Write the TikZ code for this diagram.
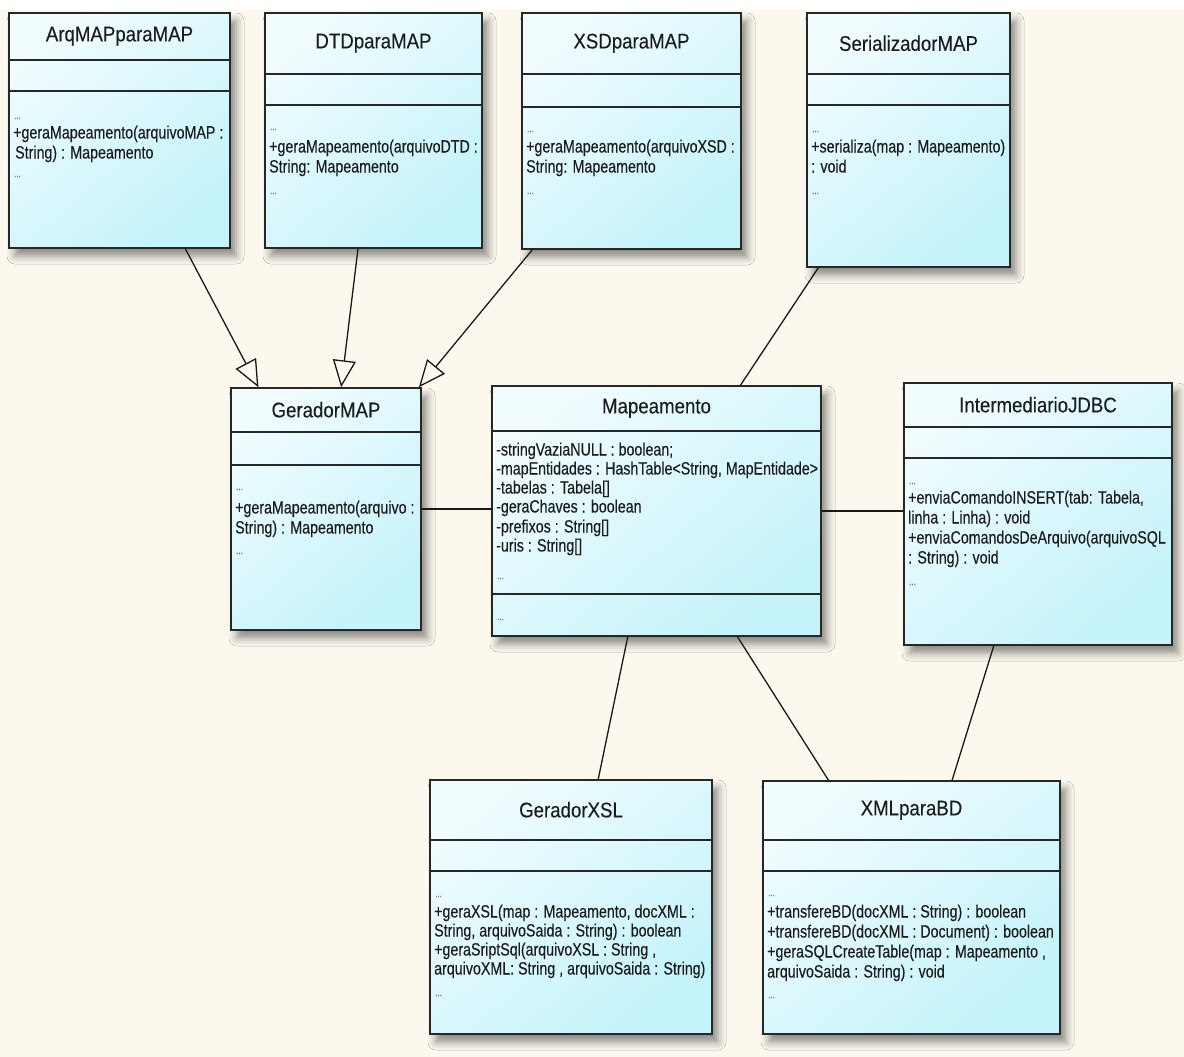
\documentclass[tikz,border=0pt]{standalone}
\usepackage{fontspec}
\setmainfont{Liberation Sans}[FakeStretch=0.8, FakeBold=0.25]
\newfontfamily\ttlfont{Liberation Sans}[FakeStretch=0.88, FakeBold=0.2]
\usetikzlibrary{calc,arrows.meta,shadows.blur}

\definecolor{paper}{RGB}{252,248,238}
\definecolor{boxlight}{RGB}{240,252,254}
\definecolor{boxdark}{RGB}{196,243,250}
\definecolor{boxline}{RGB}{38,40,40}
\definecolor{textcol}{RGB}{28,28,28}
\definecolor{dotcol}{RGB}{110,110,110}
\definecolor{linecol}{RGB}{25,25,25}

\tikzset{
  cls/.style={draw=boxline, line width=1.5pt, inner sep=0pt,
    top color=boxlight, bottom color=boxdark, shading angle=40,
    blur shadow={shadow xshift=6pt, shadow yshift=-8pt,
      shadow blur radius=8pt, shadow opacity=45}},
  sep/.style={draw=boxline, line width=1.8pt},
  ctitle/.style={font=\ttlfont\fontsize{21.2}{24}\selectfont, text=textcol, inner sep=0pt},
  mtext/.style={font=\fontsize{17.8}{19}\selectfont, text=textcol, inner sep=0pt, anchor=base west},
  mdots/.style={font=\fontsize{10}{10}\selectfont, text=dotcol, inner sep=0pt, anchor=base west},
  assoc/.style={draw=linecol, line width=1.3pt},
  gen/.style={assoc, -{Triangle[open, length=27pt, width=23pt]}},
}

% class box: name, left, top, right, bottom, first rule, second rule, title
\newcommand\umlclass[8]{%
  \pgfmathsetmacro\cw{#4-#2}\pgfmathsetmacro\ch{#5-#3}%
  \node[cls, minimum width=\cw pt, minimum height=\ch pt] (#1) at ({(#2+#4)/2},{(#3+#5)/2}) {};
  \draw[sep] ($(#1.north west)+(0,#6-#3)$) -- ($(#1.north east)+(0,#6-#3)$);
  \draw[sep] ($(#1.north west)+(0,#7-#3)$) -- ($(#1.north east)+(0,#7-#3)$);
  \node[ctitle] (#1-title) at ($(#1.north)+(0,{(#6-#3)/2})$) {#8};
}
% member line: name, x, line centre y, text
\newcommand\mem[4]{\node[mtext] (#1) at (#2,{#3+5.5}) {#4};}
% elided members
\newcommand\mdot[3]{\node[mdots] (#1) at (#2,{#3+2}) {...};}

\begin{document}
\begin{tikzpicture}[x=1pt, y=-1pt]
\useasboundingbox (0,0) rectangle (1184,1057);
\fill[paper] (0,0) rectangle (1184,1057);
\fill[white] (0,0) rectangle (1184,10);

% ---- top row
\umlclass{arq}{9}{13}{230}{248}{61}{92}{ArqMAPparaMAP}
\mdot{arq-d1}{14}{117}
\mem{arq-m1}{13}{133}{+geraMapeamento(arquivoMAP :}
\mem{arq-m2}{15}{153}{String) : Mapeamento}
\mdot{arq-d2}{14}{175}

\umlclass{dtd}{265}{13}{482}{248}{75}{106}{DTDparaMAP}
\mdot{dtd-d1}{270}{128}
\mem{dtd-m1}{269}{147}{+geraMapeamento(arquivoDTD :}
\mem{dtd-m2}{269}{167}{String: Mapeamento}
\mdot{dtd-d2}{270}{192}

\umlclass{xsd}{522}{13}{741}{249}{75}{108}{XSDparaMAP}
\mdot{xsd-d1}{527}{130}
\mem{xsd-m1}{526}{147}{+geraMapeamento(arquivoXSD :}
\mem{xsd-m2}{526}{167}{String: Mapeamento}
\mdot{xsd-d2}{527}{192}

\umlclass{ser}{807}{13}{1010}{267}{75}{106}{SerializadorMAP}
\mdot{ser-d1}{812}{130}
\mem{ser-m1}{811}{147}{+serializa(map : Mapeamento)}
\mem{ser-m2}{811}{167}{: void}
\mdot{ser-d2}{812}{192}

% ---- middle row
\umlclass{gmap}{231}{388}{421}{630}{433}{466}{GeradorMAP}
\mdot{gmap-d1}{236}{488}
\mem{gmap-m1}{235}{508}{+geraMapeamento(arquivo :}
\mem{gmap-m2}{235}{528}{String) : Mapeamento}
\mdot{gmap-d2}{236}{552}

\umlclass{mape}{492}{386}{821}{636}{432}{595}{Mapeamento}
\mem{mape-a1}{496}{450}{-stringVaziaNULL : boolean;}
\mem{mape-a2}{496}{469}{-mapEntidades : HashTable<String, MapEntidade>}
\mem{mape-a3}{496}{488}{-tabelas : Tabela[]}
\mem{mape-a4}{496}{507}{-geraChaves : boolean}
\mem{mape-a5}{496}{527}{-prefixos : String[]}
\mem{mape-a6}{496}{546}{-uris : String[]}
\mdot{mape-d1}{497}{577}
\mdot{mape-d2}{497}{618}

\umlclass{jdbc}{904}{383}{1172}{645}{428}{459}{IntermediarioJDBC}
\mdot{jdbc-d1}{909}{482}
\mem{jdbc-m1}{908}{498}{+enviaComandoINSERT(tab: Tabela,}
\mem{jdbc-m2}{908}{518}{linha : Linha) : void}
\mem{jdbc-m3}{908}{538}{+enviaComandosDeArquivo(arquivoSQL}
\mem{jdbc-m4}{908}{558}{: String) : void}
\mdot{jdbc-d2}{909}{583}

% ---- bottom row
\umlclass{gxsl}{430}{780}{712}{1034}{841}{872}{GeradorXSL}
\mdot{gxsl-d1}{435}{895}
\mem{gxsl-m1}{434}{912}{+geraXSL(map : Mapeamento, docXML :}
\mem{gxsl-m2}{434}{931}{String, arquivoSaida : String) : boolean}
\mem{gxsl-m3}{434}{950}{+geraSriptSql(arquivoXSL : String ,}
\mem{gxsl-m4}{434}{969}{arquivoXML: String , arquivoSaida : String)}
\mdot{gxsl-d2}{435}{994}

\umlclass{xbd}{763}{781}{1060}{1034}{841}{872}{XMLparaBD}
\mdot{xbd-d1}{768}{894}
\mem{xbd-m1}{767}{912}{+transfereBD(docXML : String) : boolean}
\mem{xbd-m2}{767}{932}{+transfereBD(docXML : Document) : boolean}
\mem{xbd-m3}{767}{952}{+geraSQLCreateTable(map : Mapeamento ,}
\mem{xbd-m4}{767}{972}{arquivoSaida : String) : void}
\mdot{xbd-d2}{768}{996}

% ---- generalisations
\draw[gen] ($(arq.south west)!0.796!(arq.south east)$) -- ($(gmap.north west)!0.147!(gmap.north east)$);
\draw[gen] ($(dtd.south west)!0.429!(dtd.south east)$) -- ($(gmap.north west)!0.579!(gmap.north east)$);
\draw[gen] ($(xsd.south west)!0.05!(xsd.south east)$) -- ($(gmap.north west)!0.985!(gmap.north east)$);

% ---- associations
\draw[assoc] ($(ser.south west)!0.059!(ser.south east)$) -- ($(mape.north west)!0.754!(mape.north east)$);
\draw[assoc] (gmap.east) -- (gmap.east -| mape.west);
\draw[assoc] (mape.east) -- (mape.east -| jdbc.west);
\draw[assoc] ($(mape.south west)!0.413!(mape.south east)$) -- ($(gxsl.north west)!0.596!(gxsl.north east)$);
\draw[assoc] ($(mape.south west)!0.745!(mape.south east)$) -- ($(xbd.north west)!0.222!(xbd.north east)$);
\draw[assoc] ($(jdbc.south west)!0.336!(jdbc.south east)$) -- ($(xbd.north west)!0.636!(xbd.north east)$);
\end{tikzpicture}
\end{document}
